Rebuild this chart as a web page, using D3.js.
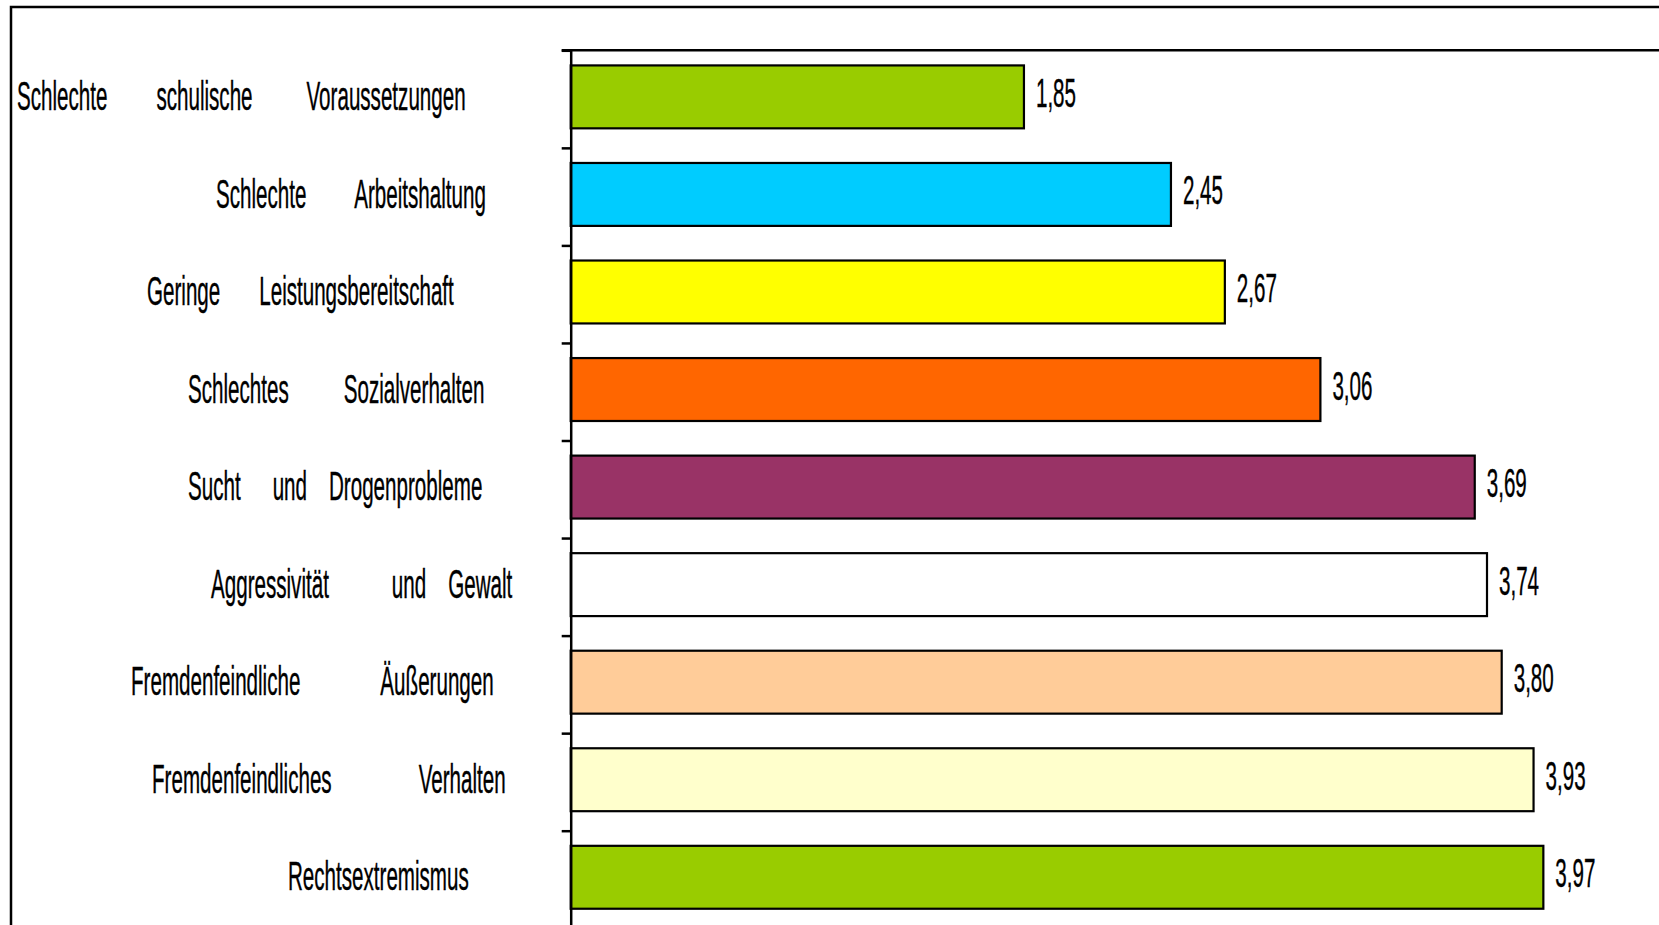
<!DOCTYPE html>
<html>
<head>
<meta charset="utf-8">
<script src="https://cdn.jsdelivr.net/npm/d3@7/dist/d3.min.js"></script>
<style>
  html, body { margin: 0; padding: 0; background: #fff; overflow: hidden; }
  svg { display: block; }
  text { font-family: "Liberation Sans", Arial, sans-serif; fill: #000; }
</style>
</head>
<body>
<svg id="chart" width="1659" height="925"></svg>
<script>
// ---- data ----
const categories = [
  "Schlechte schulische Voraussetzungen",
  "Schlechte Arbeitshaltung",
  "Geringe Leistungsbereitschaft",
  "Schlechtes Sozialverhalten",
  "Sucht und Drogenprobleme",
  "Aggressivität und Gewalt",
  "Fremdenfeindliche Äußerungen",
  "Fremdenfeindliches Verhalten",
  "Rechtsextremismus"
];
const values = [1.85, 2.45, 2.67, 3.06, 3.69, 3.74, 3.80, 3.93, 3.97];
const colors = ["#99CC00", "#00CCFF", "#FFFF00", "#FF6600", "#993366",
                "#FFFFFF", "#FFCC99", "#FFFFCC", "#99CC00"];

// ---- layout (label placement as in the original, word gaps in px) ----
const labelLeft = [17, 216, 147, 188, 188, 211, 131, 152, 288];
const labelGaps = [[49, 54], [49], [39], [55], [32, 22], [63, 22], [80], [87], []];

const W = 1659, H = 925;
const svg = d3.select("#chart");
const fontSize = 40, sx = 0.515;

const x0 = 570.7, step = 97.55, plotTop = 50.3;
const x = d3.scaleLinear().domain([0, 5]).range([x0, x0 + 5 * 245]);
const y = d3.scaleBand().domain(categories).range([plotTop, plotTop + categories.length * step]);
const yIdx = d3.scaleLinear().domain([0, categories.length]).range([plotTop, plotTop + categories.length * step]);

// outer frame
svg.append("rect")
  .attr("x", 11).attr("y", 7)
  .attr("width", W + 50).attr("height", H + 50)
  .attr("fill", "none").attr("stroke", "#000").attr("stroke-width", 2.5);

// plot top border
svg.append("line")
  .attr("x1", x0 - 9).attr("x2", W + 10)
  .attr("y1", plotTop).attr("y2", plotTop)
  .attr("stroke", "#000").attr("stroke-width", 2.5);

// bars
const bw = step * 0.645, boff = step * 0.155;
svg.append("g").selectAll("rect").data(values).join("rect")
  .attr("x", x(0))
  .attr("y", (d, i) => y(categories[i]) + boff)
  .attr("width", d => x(d) - x(0))
  .attr("height", bw)
  .attr("fill", (d, i) => colors[i])
  .attr("stroke", "#000").attr("stroke-width", 2.2);

// axis
const axis = d3.axisLeft(yIdx).ticks(categories.length).tickSize(9).tickFormat("").tickSizeOuter(0);
const ag = svg.append("g").attr("transform", `translate(${x0},0)`).call(axis);
ag.select(".domain").attr("stroke", "#000").attr("stroke-width", 2.5);
ag.selectAll(".tick line").attr("stroke", "#000").attr("stroke-width", 2.5);

// value labels
const loc = d3.formatLocale({decimal: ",", thousands: ".", grouping: [3], currency: ["", "€"]});
const fmt = loc.format(".2f");
svg.append("g").selectAll("text").data(values).join("text")
  .attr("transform", (d, i) => `translate(${x(d) + 12},${y(categories[i]) + boff + bw / 2 + 10}) scale(${sx},1)`)
  .attr("font-size", fontSize)
  .attr("stroke", "#000").attr("stroke-width", 0.4)
  .text(d => fmt(d));

// category labels
const lg = svg.append("g");
categories.forEach((c, i) => {
  const words = c.split(" ");
  const cy = y(c) + y.bandwidth() / 2 + 11;
  const t = lg.append("text")
    .attr("transform", `translate(${labelLeft[i]},${cy}) scale(${sx},1)`)
    .attr("font-size", fontSize)
    .attr("stroke", "#000").attr("stroke-width", 0.4);
  const spaceW = fontSize * 0.278;
  words.forEach((w, j) => {
    const ts = t.append("tspan").text(j === 0 ? w : " " + w);
    if (j > 0) ts.attr("dx", (labelGaps[i][j - 1] || 40) / sx - spaceW);
  });
});
</script>
</body>
</html>
